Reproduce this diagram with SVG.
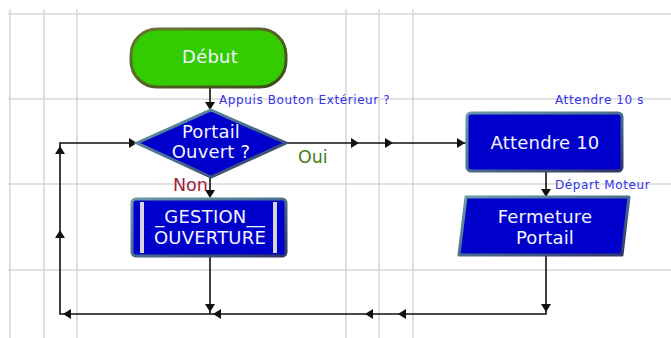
<svg xmlns="http://www.w3.org/2000/svg" width="671" height="338" viewBox="0 0 671 338">
<defs>
<style>
.grid{stroke:#d9d9d9;stroke-width:1.6;fill:none}
.conn{stroke:#111;stroke-width:1.6;fill:none}
.blue{fill:#0000cc;stroke:url(#bevel);stroke-width:3}
.t{font-family:"DejaVu Sans",Verdana,sans-serif;font-size:18px;letter-spacing:0.2px;fill:#f4f4ff;text-anchor:middle}
.lbl{font-family:"DejaVu Sans",Verdana,sans-serif;font-size:12px;letter-spacing:0.6px;fill:#3333ee}
.ah{fill:#111}
</style>
<linearGradient id="bevel" x1="0" y1="0" x2="1" y2="1">
<stop offset="0" stop-color="#6a9aa8"/>
<stop offset="0.5" stop-color="#4a6f8f"/>
<stop offset="1" stop-color="#333366"/>
</linearGradient>
<linearGradient id="gbevel" x1="0" y1="0" x2="1" y2="1">
<stop offset="0" stop-color="#6a7a30"/>
<stop offset="1" stop-color="#3e4a1a"/>
</linearGradient>
</defs>
<rect width="671" height="338" fill="#ffffff"/>
<g id="grid">
<path class="grid" d="M8 14H671M8 99H671M8 184H671M8 270H671M10 9V338M44 9V338M77 9V338M346 9V338M379 9V338M413 9V338"/>
</g>
<g id="connectors">
<path class="conn" d="M210 87V108"/>
<path class="ah" d="M205 102L215 102L210 110Z"/>
<path class="conn" d="M286 143H466"/>
<path class="ah" d="M351 138L359 143L351 148Z"/>
<path class="ah" d="M385 138L393 143L385 148Z"/>
<path class="ah" d="M457 138L465 143L457 148Z"/>
<path class="conn" d="M546 171V196"/>
<path class="ah" d="M541 189L551 189L546 197Z"/>
<path class="conn" d="M210 177V197"/>
<path class="ah" d="M205 190L215 190L210 198Z"/>
<path class="conn" d="M210 257V314"/>
<path class="ah" d="M205 304L215 304L210 312Z"/>
<path class="conn" d="M546 255V314H60V143H136"/>
<path class="ah" d="M541 304L551 304L546 312Z"/>
<path class="ah" d="M373 309L365 314L373 319Z"/>
<path class="ah" d="M406 309L398 314L406 319Z"/>
<path class="ah" d="M221 309L213 314L221 319Z"/>
<path class="ah" d="M71 309L63 314L71 319Z"/>
<path class="ah" d="M55 238L60 230L65 238Z"/>
<path class="ah" d="M55 154L60 146L65 154Z"/>
<path class="ah" d="M129 138L137 143L129 148Z"/>
<text class="lbl" x="219" y="104">Appuis Bouton Extérieur ?</text>
<text class="lbl" x="555" y="104">Attendre 10 s</text>
<text class="lbl" x="555" y="189">Départ Moteur</text>
<text x="298" y="163" style="font-family:'DejaVu Sans',Verdana,sans-serif;font-size:17.5px;fill:#4a7a1a">Oui</text>
<text x="173" y="191" style="font-family:'DejaVu Sans',Verdana,sans-serif;font-size:17.5px;fill:#a01c3c">Non</text>
</g>
<g id="debut">
<rect x="131" y="29" width="155" height="58" rx="26" fill="#33cc00" stroke="url(#gbevel)" stroke-width="3"/>
<text class="t" x="210" y="63">Début</text>
</g>
<g id="portail-ouvert">
<path class="blue" d="M211 110L286 143L211 177L137 143Z"/>
<text class="t" x="211" y="138">Portail</text>
<text class="t" x="211" y="158">Ouvert ?</text>
</g>
<g id="attendre">
<rect class="blue" x="467" y="113" width="155" height="58" rx="4"/>
<text class="t" x="545" y="149">Attendre 10</text>
</g>
<g id="gestion">
<rect class="blue" x="132" y="199" width="154" height="57" rx="4"/>
<rect x="140" y="202" width="4" height="51" fill="#d4d4e4"/>
<rect x="273" y="202" width="4" height="51" fill="#d4d4e4"/>
<text class="t" x="210" y="223">_GESTION__</text>
<text class="t" x="210" y="244">OUVERTURE</text>
</g>
<g id="fermeture">
<path class="blue" d="M466 197H629L622 255H459Z" stroke-linejoin="round"/>
<text class="t" x="545" y="223">Fermeture</text>
<text class="t" x="545" y="244">Portail</text>
</g>
</svg>
